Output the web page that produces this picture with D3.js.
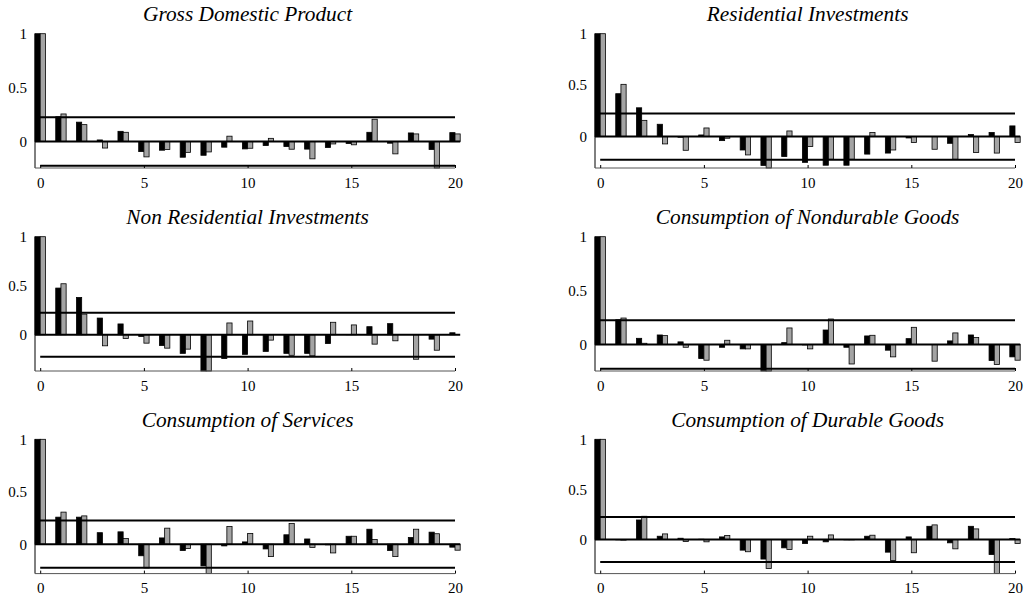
<!DOCTYPE html>
<html>
<head>
<meta charset="utf-8">
<script src="https://cdn.jsdelivr.net/npm/d3@7"></script>
<style>
html,body{margin:0;padding:0;background:#fff;}
svg{display:block;}
text{font-family:'Liberation Serif','Times New Roman',Times,serif;}
</style>
</head>
<body>
<svg id="chart" width="1026" height="602"></svg>
<script>
// ---- data ----
const lags = [0,1,2,3,4,5,6,7,8,9,10,11,12,13,14,15,16,17,18,19,20];
const titles = ["Gross Domestic Product","Residential Investments","Non Residential Investments","Consumption of Nondurable Goods","Consumption of Services","Consumption of Durable Goods"];
const yMins = [-0.245,-0.305,-0.37,-0.245,-0.28,-0.34];
const band = 0.225;
const yTicks = [0, 0.5, 1];
const yTickLabels = ["0","0.5","1"];
const xTicks = [0,5,10,15,20];

const gdpBlack = [1,0.23,0.18,0.015,0.095,-0.093,-0.08,-0.145,-0.127,-0.052,-0.068,-0.037,-0.046,-0.07,-0.055,-0.018,0.086,-0.015,0.08,-0.074,0.083];
const gdpGrey  = [1,0.256,0.157,-0.06,0.086,-0.142,-0.074,-0.1,-0.096,0.05,-0.062,0.03,-0.071,-0.16,-0.022,-0.03,0.207,-0.114,0.071,-0.26,0.071];
const resBlack = [1,0.417,0.28,0.12,-0.006,0.016,-0.039,-0.13,-0.28,-0.194,-0.25,-0.278,-0.278,-0.17,-0.16,-0.013,0,-0.065,0.02,0.04,0.104];
const resGrey  = [1,0.508,0.158,-0.071,-0.133,0.084,-0.016,-0.178,-0.32,0.055,-0.097,-0.22,-0.22,0.039,-0.13,-0.058,-0.123,-0.22,-0.155,-0.16,-0.058];
const nonResBlack = [1,0.476,0.38,0.17,0.11,-0.017,-0.11,-0.19,-0.40,-0.243,-0.2,-0.17,-0.19,-0.19,-0.09,0.003,0.082,0.113,0,-0.045,0.02];
const nonResGrey  = [1,0.52,0.21,-0.113,-0.038,-0.086,-0.137,-0.147,-0.38,0.12,0.14,-0.055,-0.21,-0.215,0.127,0.1,-0.096,-0.062,-0.25,-0.158,0];
const nondurBlack = [1,0.23,0.058,0.089,0.025,-0.13,-0.025,-0.04,-0.3,0.018,-0.003,0.135,-0.025,0.08,-0.052,0.055,0,0.034,0.089,-0.148,-0.114];
const nondurGrey  = [1,0.246,0.012,0.083,-0.025,-0.145,0.04,-0.04,-0.3,0.154,-0.04,0.237,-0.18,0.086,-0.114,0.16,-0.154,0.108,0.065,-0.185,-0.145];
const servBlack = [1,0.258,0.258,0.11,0.118,-0.11,0.06,-0.06,-0.207,-0.016,0.022,-0.045,0.09,0.05,-0.006,0.076,0.143,-0.06,0.064,0.115,-0.028];
const servGrey  = [1,0.306,0.27,0,0.054,-0.226,0.153,-0.04,-0.3,0.169,0.102,-0.118,0.197,-0.03,-0.083,0.076,0.045,-0.118,0.143,0.1,-0.057];
const durBlack = [1,-0.003,0.195,0.033,0.013,0.003,0.026,-0.106,-0.195,-0.083,-0.04,-0.023,-0.003,0.033,-0.126,0.026,0.132,-0.033,0.132,-0.15,0.01];
const durGrey  = [1,-0.006,0.232,0.056,-0.02,-0.023,0.04,-0.122,-0.29,-0.1,0.033,0.046,-0.003,0.043,-0.21,-0.132,0.146,-0.093,0.106,-0.4,-0.04];

const blackSeries = [gdpBlack,resBlack,nonResBlack,nondurBlack,servBlack,durBlack];
const greySeries  = [gdpGrey,resGrey,nonResGrey,nondurGrey,servGrey,durGrey];

// ---- layout ----
const svg = d3.select("#chart");
const colX = [35, 595];
const rowTop = [33.7, 236.7, 439.3];
const plotH = 134.3;
const barW = 5.2;
const span = 414.8;
const greyFill = "#a4a4a4";

titles.forEach((title, i) => {
  const col = i % 2, row = Math.floor(i / 2);
  const ax = colX[col], top = rowTop[row], bottom = top + plotH;
  const x = d3.scaleLinear().domain([0, 20]).range([ax + barW, ax + barW + span]);
  const y = d3.scaleLinear().domain([yMins[i], 1]).range([bottom, top]).clamp(true);
  const g = svg.append("g");

  // title
  g.append("text")
    .attr("x", (ax + x(20) + barW) / 2)
    .attr("y", top - 12.5)
    .attr("text-anchor", "middle")
    .style("font-style", "italic")
    .style("font-size", "21.3px")
    .text(title);

  // bars
  const rows = lags.map((l, k) => ({l, b: blackSeries[i][k], g: greySeries[i][k]}));
  g.selectAll("rect.black").data(rows).enter().append("rect")
    .attr("x", d => x(d.l) - barW)
    .attr("width", barW)
    .attr("y", d => Math.min(y(d.b), y(0)))
    .attr("height", d => Math.abs(y(d.b) - y(0)))
    .attr("fill", "#000").attr("stroke", "#000").attr("stroke-width", 0.8);
  g.selectAll("rect.grey").data(rows).enter().append("rect")
    .attr("x", d => x(d.l))
    .attr("width", barW)
    .attr("y", d => Math.min(y(d.g), y(0)))
    .attr("height", d => Math.abs(y(d.g) - y(0)))
    .attr("fill", greyFill).attr("stroke", "#000").attr("stroke-width", 0.8);

  // zero line
  g.append("line").attr("x1", ax).attr("x2", x(20) + barW)
    .attr("y1", y(0)).attr("y2", y(0)).attr("stroke", "#000").attr("stroke-width", 2);
  // confidence bands
  g.append("line").attr("x1", ax).attr("x2", x(20))
    .attr("y1", y(band)).attr("y2", y(band)).attr("stroke", "#000").attr("stroke-width", 2);
  g.append("line").attr("x1", x(0)).attr("x2", x(20))
    .attr("y1", y(-band)).attr("y2", y(-band)).attr("stroke", "#000").attr("stroke-width", 2);

  // y axis
  const yAxis = d3.axisLeft(y).tickValues(yTicks).tickSize(0).tickPadding(8)
    .tickFormat((d, k) => yTickLabels[k]);
  const ya = g.append("g").attr("transform", `translate(${ax},0)`).call(yAxis);
  ya.attr("font-family", null);
  ya.select(".domain").attr("d", `M0,${top}V${bottom}`).attr("stroke", "#000").attr("stroke-width", 1);
  ya.selectAll("text").style("font-size", "15px").attr("fill", "#000");

  // x axis
  const xAxis = d3.axisBottom(x).tickValues(xTicks).tickSize(-3).tickPadding(9).tickFormat(d3.format("d"));
  const xa = g.append("g").attr("transform", `translate(0,${bottom})`).call(xAxis);
  xa.attr("font-family", null);
  xa.select(".domain").attr("d", `M${ax},0H${x(20)}`).attr("stroke", "#555").attr("stroke-width", 1);
  xa.selectAll(".tick line").attr("stroke", "#000");
  xa.selectAll("text").style("font-size", "15px").attr("fill", "#000");
});
</script>
</body>
</html>
